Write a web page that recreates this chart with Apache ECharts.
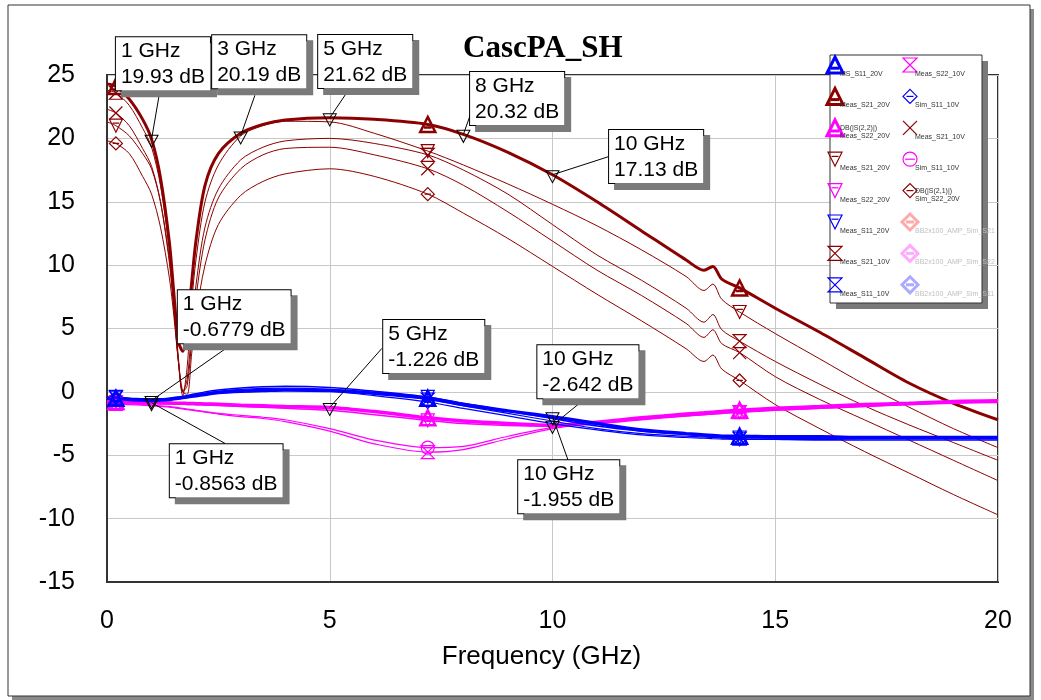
<!DOCTYPE html>
<html><head><meta charset="utf-8">
<script src="https://cdn.jsdelivr.net/npm/echarts@6/dist/echarts.min.js"></script>
<style>html,body{margin:0;padding:0;background:#fff}#c{width:1041px;height:700px}</style>
</head><body><div id="c"></div>
<script>
// ---------------- DATA ----------------
const freq = [0, 0.2, 0.5, 0.8, 1.0, 1.2, 1.4, 1.5, 1.6, 1.7, 1.8, 1.9, 2.0, 2.2, 2.5, 3, 3.5, 4, 5, 6, 7.2, 8, 9, 10, 11, 12, 13, 13.4, 13.6, 13.8, 14.2, 15, 16, 17, 18, 19, 20];

// S21 (dB)
const s21Meas20Thick = [24.3, 24.1, 23.1, 21.5, 19.93, 16.9, 11.8, 7.8, 4.0, 3.2, 4.8, 8.6, 12.0, 16.3, 18.8, 20.4, 21.1, 21.45, 21.62, 21.5, 21.1, 20.32, 18.9, 17.13, 15.0, 12.7, 10.4, 9.6, 9.9, 8.9, 8.2, 6.6, 4.7, 2.7, 0.7, -0.9, -2.2];
const s21Meas20Thin = [21.3, 21.0, 20.2, 18.8, 17.6, 15.0, 10.5, 6.8, 2.5, -0.3, 2.0, 7.0, 10.5, 15.0, 17.9, 20.19, 21.0, 21.35, 21.3, 20.4, 19.0, 17.9, 16.4, 14.8, 13.1, 11.2, 9.1, 8.0, 8.5, 7.3, 6.3, 4.6, 2.6, 0.6, -1.2, -2.9, -4.4];
const s21Meas10a = [23.8, 23.6, 22.6, 20.8, 19.3, 16.3, 11.2, 7.2, 2.8, 0.0, 1.0, 5.0, 8.5, 13.0, 16.0, 18.3, 19.3, 19.8, 20.0, 19.6, 18.7, 17.5, 15.6, 13.2, 10.8, 8.8, 6.6, 5.5, 6.1, 4.9, 4.0, 2.4, 0.6, -1.1, -2.6, -4.0, -5.4];
const s21Meas10b = [22.3, 22.0, 21.0, 19.2, 17.8, 15.0, 10.2, 6.5, 2.5, 0.0, 0.5, 4.0, 7.5, 12.0, 15.3, 17.6, 18.7, 19.2, 19.3, 18.7, 17.6, 16.3, 14.2, 11.9, 9.6, 7.6, 5.4, 4.3, 4.9, 3.8, 3.1, 1.2, -0.6, -2.2, -3.8, -5.4, -7.0];
const s21Sim = [19.8, 19.6, 18.8, 17.0, 15.6, 13.0, 9.0, 6.0, 2.5, 0.0, -0.2, 3.0, 6.0, 10.0, 13.2, 15.5, 16.6, 17.2, 17.6, 17.0, 15.6, 14.1, 12.1, 9.9, 7.7, 5.6, 3.4, 2.4, 2.9, 1.8, 0.9, -1.0, -2.9, -4.7, -6.4, -8.1, -9.7];

// S11 (dB)
const s11Meas20Thick = [-0.5, -0.5, -0.6, -0.65, -0.68, -0.65, -0.6, -0.55, -0.5, -0.45, -0.4, -0.35, -0.3, -0.2, -0.05, 0.05, 0.1, 0.15, 0.1, -0.1, -0.5, -1.0, -1.5, -1.955, -2.5, -3.0, -3.3, -3.4, -3.45, -3.5, -3.5, -3.55, -3.55, -3.6, -3.6, -3.6, -3.6];
const s11Meas20Thin = [-0.4, -0.4, -0.5, -0.55, -0.6, -0.55, -0.5, -0.45, -0.4, -0.35, -0.3, -0.2, -0.15, 0.0, 0.15, 0.3, 0.4, 0.45, 0.35, 0.05, -0.4, -0.9, -1.5, -2.1, -2.7, -3.1, -3.35, -3.45, -3.5, -3.55, -3.6, -3.65, -3.7, -3.7, -3.7, -3.7, -3.7];
const s11Meas10 = [-0.45, -0.45, -0.55, -0.6, -0.62, -0.6, -0.55, -0.5, -0.45, -0.4, -0.35, -0.3, -0.25, -0.1, 0.05, 0.2, 0.28, 0.3, 0.2, -0.1, -0.6, -1.1, -1.7, -2.3, -2.9, -3.3, -3.5, -3.55, -3.6, -3.65, -3.7, -3.75, -3.8, -3.8, -3.8, -3.8, -3.8];
const s11Sim10 = [-0.45, -0.45, -0.55, -0.6, -0.65, -0.62, -0.58, -0.55, -0.5, -0.45, -0.4, -0.35, -0.3, -0.15, 0.0, 0.1, 0.18, 0.2, 0.05, -0.3, -0.8, -1.3, -1.9, -2.5, -3.0, -3.4, -3.6, -3.65, -3.7, -3.72, -3.75, -3.75, -3.75, -3.7, -3.7, -3.7, -3.7];

// S22 (dB)
const s22Thick = [-0.75, -0.75, -0.8, -0.84, -0.8563, -0.87, -0.88, -0.89, -0.9, -0.9, -0.91, -0.92, -0.93, -0.95, -0.98, -1.05, -1.1, -1.15, -1.226, -1.55, -2.05, -2.3, -2.5, -2.642, -2.4, -2.05, -1.75, -1.65, -1.6, -1.55, -1.45, -1.3, -1.15, -1.0, -0.9, -0.75, -0.7];
const s22Meas20 = [-0.8, -0.8, -0.85, -0.9, -0.92, -0.93, -0.95, -0.96, -0.97, -0.98, -0.99, -1.0, -1.01, -1.04, -1.08, -1.15, -1.22, -1.3, -1.45, -1.8, -2.25, -2.5, -2.65, -2.7, -2.5, -2.2, -1.9, -1.8, -1.75, -1.7, -1.6, -1.45, -1.3, -1.15, -1.0, -0.85, -0.8];
const s22Sim10 = [-0.9, -0.9, -0.95, -1.0, -1.05, -1.1, -1.15, -1.2, -1.25, -1.3, -1.35, -1.4, -1.45, -1.55, -1.7, -1.85, -2.0, -2.2, -2.9, -3.8, -4.4, -4.3, -3.5, -2.8, -2.4, -2.1, -1.85, -1.75, -1.7, -1.65, -1.55, -1.4, -1.25, -1.1, -0.95, -0.85, -0.8];
const s22Meas10 = [-0.95, -0.95, -1.0, -1.05, -1.1, -1.15, -1.2, -1.25, -1.3, -1.35, -1.4, -1.45, -1.5, -1.6, -1.75, -1.95, -2.1, -2.35, -3.1, -4.1, -4.75, -4.55, -3.7, -2.9, -2.45, -2.15, -1.9, -1.8, -1.75, -1.7, -1.6, -1.45, -1.3, -1.15, -1.0, -0.9, -0.85];

// frequencies at which the trace symbols are drawn
const symbolFreqs = [0.2, 7.2, 14.2];

// marker readouts
const annFreq = [1, 3, 5, 8, 10, 1, 1, 5, 10, 10];
const annDb = [19.93, 20.19, 21.62, 20.32, 17.13, -0.6779, -0.8563, -1.226, -2.642, -1.955];

// legend
const legendLabels = ['MS_S11_20V', 'Meas_S21_20V', 'DB(|S(2,2)|)\nMeas_S22_20V', 'Meas_S21_20V', 'Meas_S22_20V', 'Meas_S11_20V', 'Meas_S21_10V', 'Meas_S11_10V',
  'Meas_S22_10V', 'Sim_S11_10V', 'Meas_S21_10V', 'Sim_S11_10V', 'DB(|S(2,1)|)\nSim_S22_20V', 'BB2x100_AMP_Sim_S21', 'BB2x100_AMP_Sim_S22', 'BB2x100_AMP_Sim_S11'];

const xTicks = [0, 5, 10, 15, 20];
const yTicks = [-15, -10, -5, 0, 5, 10, 15, 20, 25];

// ---------------- STYLE / LAYOUT ----------------
const RED = '#8b0000', BLUE = '#0000ff', MAG = '#ff00ff';
const SYM = {
  tri: 'M5,0L10,10L0,10Z M2.5,7L7.5,7',
  dtri: 'M0,0L10,0L5,10Z M2.5,3L7.5,3',
  hour: 'M0,0L10,0L0,10L10,10Z',
  x: 'M0,0L10,10M10,0L0,10',
  dia: 'M5,0L10,5L5,10L0,5Z M2.5,5L7.5,5',
  circ: 'M0,5A5,5,0,1,1,10,5A5,5,0,1,1,0,5Z M1.5,5L8.5,5'
};
const legendColors = [BLUE, RED, MAG, RED, MAG, BLUE, RED, BLUE, MAG, BLUE, RED, MAG, RED, '#ffaaaa', '#ffaaff', '#aaaaff'];
const legendSyms = ['tri', 'tri', 'tri', 'dtri', 'dtri', 'dtri', 'hour', 'hour', 'hour', 'dia', 'x', 'circ', 'dia', 'dia', 'dia', 'dia'];
const legendThick = [1, 1, 1, 0, 0, 0, 0, 0, 0, 0, 0, 0, 0, 1, 1, 1];

const SANS = 'Liberation Sans';
const TICK_FS = 25, NAME_FS = 26, BOX_FS = 21;

// annotation box anchors (bottom-left corner) and leader starts, in data coordinates
const annBox = [[0.2, 23.8], [2.36, 23.95], [4.74, 23.97], [8.15, 21.05], [11.27, 16.47], [1.59, 3.84], [1.41, -8.31], [6.2, 1.48], [9.66, -0.5], [9.23, -9.57]];
const annLead = [[1.19, 23.8], [3.32, 23.4], [5.45, 23.96], [8.15, 21.8], [11.25, 18.55], [2.67, 3.43], [2.65, -4.07], [6.17, 3.43], [10.69, -0.66], [10.35, -5.39]];

function traceData(arr, sym, size) {
  return freq.map((f, i) => symbolFreqs.indexOf(f) >= 0
    ? { value: [f, arr[i]], symbol: 'path://' + SYM[sym], symbolSize: size }
    : [f, arr[i]]);
}
function trace(name, arr, color, width, sym, thick) {
  return {
    name: name, type: 'line', data: traceData(arr, sym, thick ? 15 : 13),
    symbol: 'none', showSymbol: true, smooth: 0.3, clip: false,
    lineStyle: { color: color, width: width },
    itemStyle: { color: 'rgba(0,0,0,0)', borderColor: color, borderWidth: thick ? 2.5 : 1.2 },
    emphasis: { disabled: true }, z: 3
  };
}

const series = [
  trace('S21 sim', s21Sim, RED, 1, 'dia', false),
  trace('S21 10V b', s21Meas10b, RED, 1, 'x', false),
  trace('S21 10V a', s21Meas10a, RED, 1, 'hour', false),
  trace('S21 20V thin', s21Meas20Thin, RED, 1, 'dtri', false),
  trace('S21 20V', s21Meas20Thick, RED, 3, 'tri', true),
  trace('S22 10V', s22Meas10, MAG, 1.2, 'hour', false),
  trace('S22 sim', s22Sim10, MAG, 1.2, 'circ', false),
  trace('S22 20V', s22Meas20, MAG, 1.5, 'dtri', false),
  trace('S22', s22Thick, MAG, 3.5, 'tri', true),
  trace('S11 sim', s11Sim10, BLUE, 1.2, 'dia', false),
  trace('S11 10V', s11Meas10, BLUE, 1.2, 'hour', false),
  trace('S11 20V thin', s11Meas20Thin, BLUE, 1.5, 'dtri', false),
  trace('S11 20V', s11Meas20Thick, BLUE, 3.5, 'tri', true)
];

// marker readouts host series
series.push({
  name: 'markers', type: 'line', data: [], clip: false, z: 10, silent: true,
  markLine: {
    silent: true, symbol: ['none', 'none'], animation: false,
    label: { show: false },
    lineStyle: { color: '#000', width: 1, type: 'solid' },
    data: annFreq.map((f, i) => [{ coord: annLead[i] }, { coord: [f, annDb[i]] }])
  },
  markPoint: {
    silent: true, animation: false,
    data: annFreq.map((f, i) => ({
      coord: [f, annDb[i]], symbol: 'path://M0,0L10,0L5,10Z', symbolSize: [13, 12], symbolOffset: [0, 2],
      itemStyle: { color: 'rgba(0,0,0,0)', borderColor: '#000', borderWidth: 1 }, label: { show: false }
    })).concat(annFreq.map((f, i) => ({
      coord: annBox[i], symbol: 'rect', symbolSize: 0,
      label: {
        show: true, position: [0, 0], align: 'left', verticalAlign: 'bottom',
        formatter: f + ' GHz\n' + annDb[i] + ' dB',
        fontFamily: SANS, fontSize: BOX_FS, lineHeight: 26, color: '#000',
        backgroundColor: '#fff', borderColor: '#000', borderWidth: 1, padding: [1, 5, 0, 5],
        shadowColor: '#7a7a7a', shadowOffsetX: 6, shadowOffsetY: 6, shadowBlur: 0
      }
    })))
  }
});

// ----- legend / frame graphics (pixel layout) -----
function symShapes(kind, cx, cy, sz, color, lw, z) {
  const h = sz / 2, st = { fill: 'none', stroke: color, lineWidth: lw };
  const out = [];
  const poly = pts => out.push({ type: 'polygon', z: z, silent: true, shape: { points: pts }, style: st });
  const line = (x1, y1, x2, y2) => out.push({ type: 'line', z: z, silent: true, shape: { x1: x1, y1: y1, x2: x2, y2: y2 }, style: st });
  if (kind === 'tri') { poly([[cx, cy - h], [cx + h, cy + h], [cx - h, cy + h]]); line(cx - h / 2, cy + h * 0.4, cx + h / 2, cy + h * 0.4); }
  else if (kind === 'dtri') { poly([[cx - h, cy - h], [cx + h, cy - h], [cx, cy + h]]); line(cx - h / 2, cy - h * 0.4, cx + h / 2, cy - h * 0.4); }
  else if (kind === 'hour') { poly([[cx - h, cy - h], [cx + h, cy - h], [cx - h, cy + h], [cx + h, cy + h]]); }
  else if (kind === 'x') { line(cx - h, cy - h, cx + h, cy + h); line(cx + h, cy - h, cx - h, cy + h); }
  else if (kind === 'dia') { poly([[cx, cy - h], [cx + h, cy], [cx, cy + h], [cx - h, cy]]); line(cx - h / 2, cy, cx + h / 2, cy); }
  else if (kind === 'circ') { out.push({ type: 'circle', z: z, silent: true, shape: { cx: cx, cy: cy, r: h }, style: st }); line(cx - h * 0.7, cy, cx + h * 0.7, cy); }
  return out;
}

const graphic = [
  { type: 'rect', z: -11, silent: true, shape: { x: 12, y: 9, width: 1022, height: 691 }, style: { fill: '#8a8a8a' } },
  { type: 'rect', z: -10, silent: true, shape: { x: 8, y: 5, width: 1022, height: 691 }, style: { fill: '#fff', stroke: '#333', lineWidth: 1 } },
  { type: 'rect', z: 49, silent: true, shape: { x: 836, y: 61, width: 152, height: 248 }, style: { fill: '#7a7a7a' } },
  { type: 'rect', z: 50, silent: true, shape: { x: 830, y: 55, width: 152, height: 248 }, style: { fill: '#fff', stroke: '#333', lineWidth: 1 } }
];
legendLabels.forEach((lab, i) => {
  const col = i < 8 ? 0 : 1, row = i % 8;
  const cx = col === 0 ? 835 : 910, cy = 65 + row * 31.4;
  const sz = legendThick[i] ? 16 : 14;
  symShapes(legendSyms[i], cx, cy, sz, legendColors[i], legendThick[i] ? 3 : 1.2, 51).forEach(g => graphic.push(g));
  const faded = i >= 13;
  const two = lab.indexOf('\n') >= 0;
  graphic.push({
    type: 'text', z: 52, silent: true,
    style: {
      text: lab, x: cx + 5, y: two ? cy + 4.5 : cy + 9, verticalAlign: 'middle', align: 'left',
      font: '7px "Liberation Sans"', lineHeight: 8, fill: faded ? '#c0c0c0' : '#333'
    }
  });
});

const chart = echarts.init(document.getElementById('c'), null, { renderer: 'canvas' });
chart.setOption({
  animation: false,
  title: {
    text: 'CascPA_SH', left: 458, top: 28,
    textStyle: { fontFamily: 'Liberation Serif', fontWeight: 'bold', fontSize: 31, color: '#000' }
  },
  grid: { left: 107, right: 43, top: 75, bottom: 118, show: true, borderColor: '#333', borderWidth: 2, backgroundColor: 'rgba(0,0,0,0)' },
  xAxis: {
    type: 'value', min: xTicks[0], max: xTicks[xTicks.length - 1], interval: 5,
    name: 'Frequency (GHz)', nameLocation: 'middle', nameGap: 62,
    nameTextStyle: { fontFamily: SANS, fontSize: NAME_FS, color: '#000', padding: [0, 22, 0, 0] },
    axisLine: { show: true, onZero: false, lineStyle: { color: '#333', width: 2 } },
    axisTick: { show: false },
    axisLabel: { fontFamily: SANS, fontSize: TICK_FS, color: '#000', margin: 27 },
    splitLine: { show: true, lineStyle: { color: '#c8c8c8', width: 1 } }
  },
  yAxis: {
    type: 'value', min: yTicks[0], max: yTicks[yTicks.length - 1], interval: 5,
    axisLine: { show: true, onZero: false, lineStyle: { color: '#333', width: 2 } },
    axisTick: { show: false },
    axisLabel: { fontFamily: SANS, fontSize: TICK_FS, color: '#000', margin: 32 },
    splitLine: { show: true, lineStyle: { color: '#c8c8c8', width: 1 } }
  },
  graphic: graphic,
  series: series
});
</script>
</body></html>
